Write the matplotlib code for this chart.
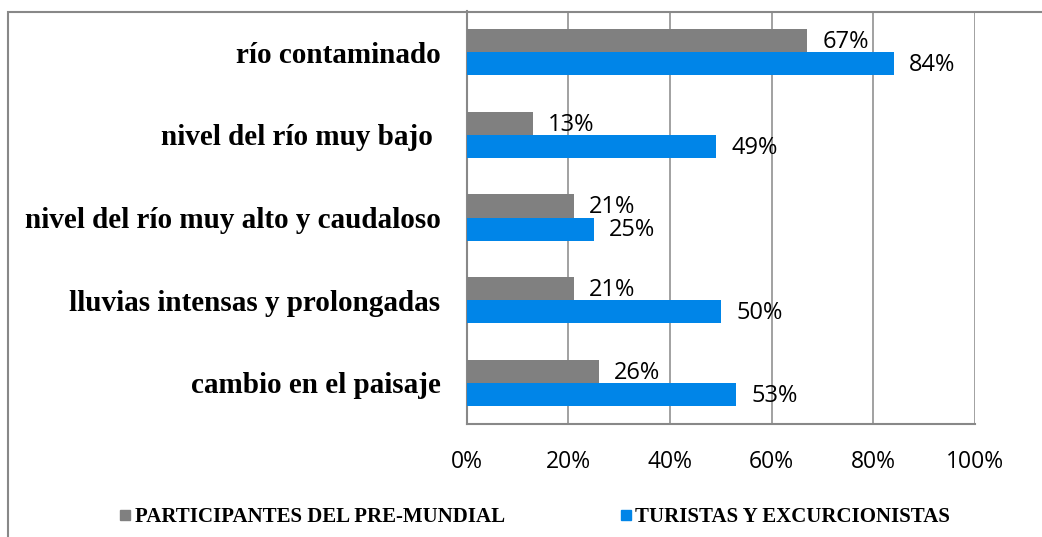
import matplotlib
matplotlib.use("Agg")

import matplotlib.pyplot as plt
from matplotlib.lines import Line2D
from matplotlib.patches import Rectangle
import numpy as np

# ── Data ───────────────────────────────────────────────────────────────────────
categories = [
    "cambio en el paisaje",
    "lluvias intensas y prolongadas",
    "nivel del río muy alto y caudaloso",
    "nivel del río muy bajo ",
    "río contaminado",
]
participantes = [26, 21, 21, 13, 67]
turistas = [53, 50, 25, 49, 84]
series_names = ["PARTICIPANTES DEL PRE-MUNDIAL", "TURISTAS Y EXCURCIONISTAS"]
x_ticks = [0, 20, 40, 60, 80, 100]

GRAY = "#808080"
BLUE = "#0085E8"
LINE = "#888888"
SERIF = "Liberation Serif"
SANS = "Open Sans"

fig = plt.figure(figsize=(10.42, 5.37), dpi=100)
fig.patch.set_facecolor("white")
ax = fig.add_axes([0.448, 0.2104, 0.4877, 0.7691])

y = np.arange(len(categories))
h = 0.28
ax.barh(y + h / 2, participantes, height=h, color=GRAY, zorder=3)
ax.barh(y - h / 2, turistas, height=h, color=BLUE, zorder=3)

# data labels
for yi, v in zip(y, participantes):
    ax.annotate(f"{v}%", (v, yi + h / 2), xytext=(11, -1), textcoords="offset points",
                ha="left", va="center", fontsize=17, family=SANS, color="black", zorder=4)
for yi, v in zip(y, turistas):
    ax.annotate(f"{v}%", (v, yi - h / 2), xytext=(11, -1), textcoords="offset points",
                ha="left", va="center", fontsize=17, family=SANS, color="black", zorder=4)

# axis formatting
ax.set_xlim(0, 100)
ax.set_ylim(-0.5, len(categories) - 0.5)
ax.set_xticks(x_ticks)
ax.set_xticklabels([f"{t}%" for t in x_ticks], fontsize=16.5, family=SANS)
ax.set_yticks(y)
ax.set_yticklabels(categories, fontsize=21, family=SERIF, fontweight="bold")
ax.tick_params(axis="x", length=0, pad=19)
ax.tick_params(axis="y", length=0, pad=19)
ax.grid(axis="x", color=LINE, linewidth=1.1, zorder=0)
ax.set_axisbelow(True)
for side in ("top", "right"):
    ax.spines[side].set_visible(False)
for side in ("left", "bottom"):
    ax.spines[side].set_color(LINE)
    ax.spines[side].set_linewidth(1.5)

# outer chart frame (partly cropped in the source)
fig.add_artist(Rectangle((8 / 1042, -0.2), 1.5, 1.2 - 11.5 / 537,
                         transform=fig.transFigure, fill=False,
                         edgecolor=LINE, linewidth=1.5, clip_on=False))

# legend
handles = [
    Line2D([], [], marker="s", linestyle="", color=GRAY, markersize=7.5),
    Line2D([], [], marker="s", linestyle="", color=BLUE, markersize=7.5),
]
fig.legend(handles, series_names, loc="center", bbox_to_anchor=(0.513, 0.037),
           ncol=2, frameon=False, handlelength=0.6, handletextpad=0.15,
           columnspacing=5.5, prop={"family": SERIF, "weight": "bold", "size": 15})

fig.savefig("out.png", dpi=100)
